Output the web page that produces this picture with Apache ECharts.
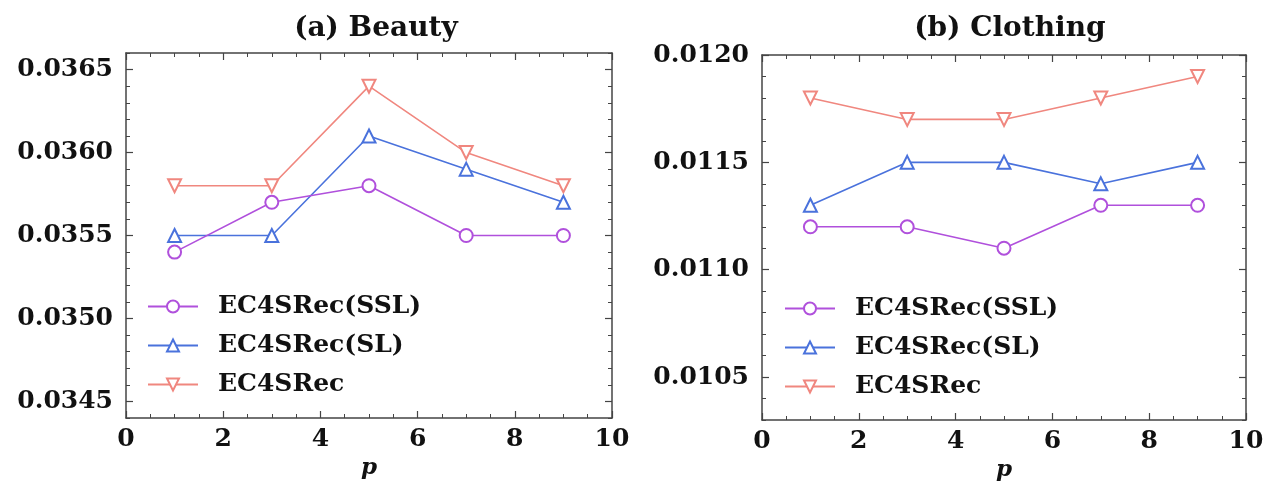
<!DOCTYPE html>
<html>
<head>
<meta charset="utf-8">
<script src="https://cdn.jsdelivr.net/npm/echarts@6/dist/echarts.min.js"></script>
<style>
  html, body { margin: 0; padding: 0; background: #fff; }
  #chart { width: 1271px; height: 489px; }
</style>
</head>
<body>
<div id="chart"></div>
<script>
// p values on the x axis
const pValues = [1, 3, 5, 7, 9];
const seriesNames = ["EC4SRec(SSL)", "EC4SRec(SL)", "EC4SRec"];

// (a) Beauty
const beautySSL = [0.0354, 0.0357, 0.0358, 0.0355, 0.0355];
const beautySL = [0.0355, 0.0355, 0.0361, 0.0359, 0.0357];
const beautyFull = [0.0358, 0.0358, 0.0364, 0.0360, 0.0358];
const beautyTicks = [0.0345, 0.0350, 0.0355, 0.0360, 0.0365];

// (b) Clothing
const clothingSSL = [0.0112, 0.0112, 0.0111, 0.0113, 0.0113];
const clothingSL = [0.0113, 0.0115, 0.0115, 0.0114, 0.0115];
const clothingFull = [0.0118, 0.0117, 0.0117, 0.0118, 0.0119];
const clothingTicks = [0.0105, 0.0110, 0.0115, 0.0120];

const titles = ["(a) Beauty", "(b) Clothing"];

const FONT = "DejaVu Serif";
const colors = ["#b050dc", "#4a72dc", "#f0877f"];
const symbols = ["emptyCircle", "emptyTriangle", "emptyTriangle"];
const rotates = [0, 0, 180];

const chart = echarts.init(document.getElementById("chart"));

const grids = [
  { left: 126, right: 659, top: 53, bottom: 71 },
  { left: 762, right: 25, top: 55, bottom: 69 },
];
const yRanges = [
  [0.0344, 0.0366],
  [0.0103, 0.0120],
];
const yTicks = [beautyTicks, clothingTicks];

const xAxes = [];
const yAxes = [];
const series = [];
const legends = [];

const tickStyle = { show: true, inside: true, length: 7, lineStyle: { color: "#444", width: 1.2 } };
const minorStyle = { show: true, length: 4, lineStyle: { color: "#444", width: 1 } };
const lineStyle = { show: true, lineStyle: { color: "#444", width: 1.5 } };
const labelFont = { fontFamily: FONT, fontWeight: "bold", fontSize: 25, color: "#111" };

[0, 1].forEach((g) => {
  // bottom and top x axes
  ["bottom", "top"].forEach((pos) => {
    xAxes.push({
      gridIndex: g,
      type: "value",
      min: 0,
      max: 10,
      interval: 2,
      position: pos,
      name: pos === "bottom" ? "p" : "",
      nameLocation: "middle",
      nameGap: 34,
      nameTextStyle: { fontFamily: FONT, fontWeight: "bold", fontStyle: "italic", fontSize: 23, color: "#111" },
      axisLine: lineStyle,
      axisTick: tickStyle,
      minorTick: Object.assign({ splitNumber: 4 }, minorStyle),
      splitLine: { show: false },
      axisLabel: pos === "bottom" ? Object.assign({ margin: 9 }, labelFont) : { show: false },
    });
  });
  // y axes: major ticks + labels, then minor ticks, on both sides
  ["left", "right"].forEach((pos) => {
    yAxes.push({
      gridIndex: g,
      type: "value",
      min: yRanges[g][0],
      max: yRanges[g][1],
      position: pos,
      axisLine: lineStyle,
      axisTick: Object.assign({ customValues: yTicks[g] }, tickStyle),
      splitLine: { show: false },
      axisLabel: pos === "left"
        ? Object.assign({ customValues: yTicks[g], margin: 13, formatter: (v) => v.toFixed(4) }, labelFont)
        : { show: false },
    });
    yAxes.push({
      gridIndex: g,
      type: "value",
      min: yRanges[g][0],
      max: yRanges[g][1],
      interval: 0.0001,
      position: pos,
      axisLine: { show: false },
      axisTick: Object.assign({ inside: true }, minorStyle),
      splitLine: { show: false },
      axisLabel: { show: false },
    });
  });
});

const panelData = [
  [beautySSL, beautySL, beautyFull],
  [clothingSSL, clothingSL, clothingFull],
];

panelData.forEach((sets, g) => {
  sets.forEach((vals, i) => {
    series.push({
      name: seriesNames[i],
      type: "line",
      xAxisIndex: g * 2,
      yAxisIndex: g * 4,
      data: pValues.map((p, k) => [p, vals[k]]),
      symbol: symbols[i],
      symbolSize: 13,
      symbolRotate: rotates[i],
      lineStyle: { color: colors[i], width: 1.6 },
      itemStyle: { color: colors[i], borderWidth: 1.6 },
      z: 3 - i,
    });
  });
});

const legendTops = [289, 291];
const legendLefts = [142, 779];
[0, 1].forEach((g) => {
  legends.push({
    left: legendLefts[g],
    top: legendTops[g],
    orient: "vertical",
    itemGap: 14,
    itemWidth: 50,
    itemHeight: 15,
    data: seriesNames,
    textStyle: Object.assign({ padding: [0, 0, 0, 15] }, labelFont),
  });
});

const titleFont = { fontFamily: FONT, fontWeight: "bold", fontSize: 28, color: "#111" };
chart.setOption({
  animation: false,
  title: [
    { text: titles[0], left: 371, top: 10, textAlign: "center", textStyle: titleFont },
    { text: titles[1], left: 1005, top: 10, textAlign: "center", textStyle: titleFont },
  ],
  grid: grids,
  xAxis: xAxes,
  yAxis: yAxes,
  legend: legends,
  series: series,
});
</script>
</body>
</html>
